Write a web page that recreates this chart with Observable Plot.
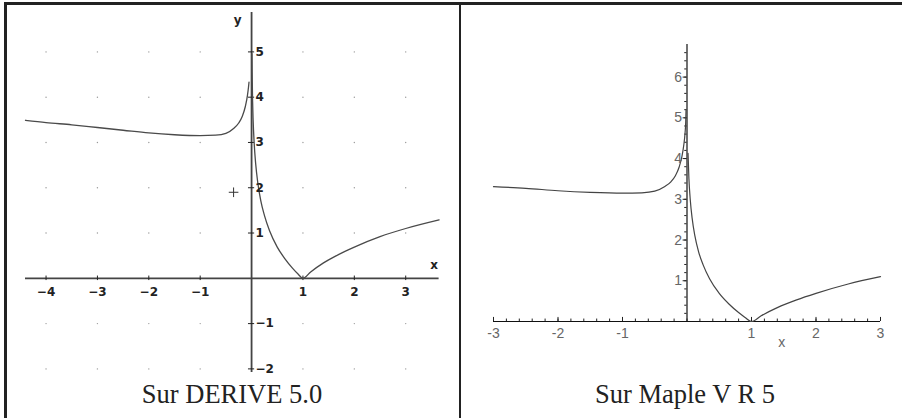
<!DOCTYPE html>
<html>
<head>
<meta charset="utf-8">
<script src="https://cdn.jsdelivr.net/npm/d3@7"></script>
<script src="https://cdn.jsdelivr.net/npm/@observablehq/plot@0.6"></script>
<style>
  html, body { margin: 0; padding: 0; background: #fff; }
  #wrap { position: relative; width: 902px; height: 418px; background: #fff; overflow: hidden; }
  .bar { position: absolute; background: #222; }
  .panel { position: absolute; }
  .cap { position: absolute; top: 379px; font-family: "Liberation Serif", "Times New Roman", serif;
         font-size: 26.5px; line-height: 30px; color: #222; text-align: center; white-space: nowrap; }
</style>
</head>
<body>
<div id="wrap">
  <div class="bar" style="left:4px;top:2px;width:898px;height:2.5px"></div>
  <div class="bar" style="left:4px;top:2px;width:2.5px;height:416px"></div>
  <div class="bar" style="left:458.5px;top:2px;width:2.5px;height:416px"></div>
  <div id="left" class="panel" style="left:6px;top:6px"></div>
  <div id="right" class="panel" style="left:461px;top:6px"></div>
  <div class="cap" style="left:6px;width:452px">Sur DERIVE 5.0</div>
  <div class="cap" style="left:461px;width:448px">Sur Maple V R 5</div>
</div>
<script>
// ---------- DERIVE 5.0 panel data ----------
const deriveNegX = [-4.4, -4, -3.5, -3, -2.5, -2, -1.5, -1, -0.7, -0.5, -0.35, -0.25, -0.18, -0.12, -0.08, -0.06, -0.05];
const deriveNegY = [3.49, 3.44, 3.39, 3.33, 3.27, 3.21, 3.17, 3.15, 3.16, 3.20, 3.31, 3.43, 3.58, 3.80, 4.04, 4.22, 4.33];
const derivePosX = [0.007, 0.01, 0.02, 0.03, 0.05, 0.08, 0.12, 0.18, 0.25, 0.35, 0.5, 0.65, 0.8, 0.9, 1, 1.15, 1.4, 1.7, 2, 2.5, 3, 3.65];
const derivePosY = [4.96, 4.6, 3.91, 3.5, 3.0, 2.53, 2.12, 1.71, 1.39, 1.05, 0.69, 0.43, 0.22, 0.1, 0, 0.14, 0.34, 0.53, 0.69, 0.92, 1.1, 1.29];
const deriveXTicks = [-4, -3, -2, -1, 1, 2, 3];
const deriveYTicks = [-2, -1, 1, 2, 3, 4, 5];
const deriveXLabels = ["\u22124", "\u22123", "\u22122", "\u22121", "1", "2", "3"];
const deriveYLabels = ["\u22122", "\u22121", "1", "2", "3", "4", "5"];
const deriveCursor = [{x: -0.35, y: 1.9}];

// ---------- Maple V R 5 panel data ----------
const mapleNegX = [-3, -2.5, -2, -1.5, -1, -0.7, -0.5, -0.35, -0.25, -0.18, -0.12, -0.08, -0.05, -0.03, -0.02, -0.015];
const mapleNegY = [3.31, 3.27, 3.21, 3.17, 3.15, 3.16, 3.20, 3.31, 3.43, 3.58, 3.80, 4.04, 4.33, 4.63, 4.90, 5.20];
const maplePosX = [0.016, 0.03, 0.05, 0.08, 0.12, 0.18, 0.25, 0.35, 0.5, 0.65, 0.8, 0.9, 1, 1.15, 1.4, 1.7, 2, 2.5, 3];
const maplePosY = [4.13, 3.5, 3.0, 2.53, 2.12, 1.71, 1.39, 1.05, 0.69, 0.43, 0.22, 0.1, 0, 0.14, 0.34, 0.53, 0.69, 0.92, 1.1];
const mapleXTicks = [-3, -2, -1, 1, 2, 3];
const mapleXLabels = ["-3", "-2", "-1", "1", "2", "3"];
const mapleYTicks = [1, 2, 3, 4, 5, 6];
const mapleYLabels = ["1", "2", "3", "4", "5", "6"];

const zip = (xs, ys, branch) => xs.map((x, i) => ({x, y: ys[i], branch}));

// ---------- DERIVE plot ----------
{
  const xDom = [-4.4, 3.65], yDom = [-2.08, 5.87];
  const curve = [...zip(deriveNegX, deriveNegY, "neg"), ...zip(derivePosX, derivePosY, "pos")];
  const grid = deriveXTicks.flatMap(x => [...deriveYTicks].map(y => ({x, y})));
  const font = "DejaVu Sans, sans-serif";
  const xl = deriveXTicks.map((x, i) => ({x, t: deriveXLabels[i]}));
  const yl = deriveYTicks.map((y, i) => ({y, t: deriveYLabels[i]}));
  const p = Plot.plot({
    width: 452, height: 370,
    marginLeft: 19, marginRight: 19.4, marginTop: 6, marginBottom: 4,
    x: {domain: xDom, axis: null},
    y: {domain: yDom, axis: null},
    style: {background: "transparent", overflow: "visible"},
    marks: [
      Plot.dot(grid, {x: "x", y: "y", r: 0.7, fill: "#999", stroke: null}),
      Plot.ruleY([0], {x1: xDom[0], x2: xDom[1], stroke: "#444", strokeWidth: 1.8}),
      Plot.ruleX([0], {y1: yDom[0], y2: yDom[1], stroke: "#444", strokeWidth: 1.8}),
      Plot.ruleX(deriveXTicks, {x: d => d, y1: -0.05, y2: 0.05, stroke: "#222", strokeWidth: 1}),
      Plot.ruleY(deriveYTicks, {y: d => d, x1: -0.06, x2: 0.06, stroke: "#222", strokeWidth: 1}),
      Plot.line(curve, {x: "x", y: "y", z: "branch", stroke: "#4a4a4a", strokeWidth: 1.3, curve: "monotone-x"}),
      Plot.text(xl, {x: "x", y: 0, text: "t", dy: 14, fontSize: 12, fontWeight: "bold", fontFamily: font, fill: "#222"}),
      Plot.text(yl, {x: 0, y: "y", text: "t", dx: 4, textAnchor: "start", fontSize: 12, fontWeight: "bold", fontFamily: font, fill: "#222"}),
      Plot.text(["y"], {x: 0, y: yDom[1], text: d => d, dx: -14, dy: 8, fontSize: 12, fontWeight: "bold", fontFamily: font, fill: "#222"}),
      Plot.text(["x"], {x: xDom[1], y: 0, text: d => d, dx: -5, dy: -13, fontSize: 12, fontWeight: "bold", fontFamily: font, fill: "#222"}),
      Plot.dot(deriveCursor, {x: "x", y: "y", symbol: "plus", r: 3.2, stroke: "#333", strokeWidth: 1})
    ]
  });
  document.getElementById("left").appendChild(p);
}

// ---------- Maple plot ----------
{
  const xDom = [-3, 3], yDom = [0, 6.8];
  const curve = [...zip(mapleNegX, mapleNegY, "neg"), ...zip(maplePosX, maplePosY, "pos")];
  const minorX = d3.range(-15, 16).map(k => k / 5);
  const minorY = d3.range(1, 34).map(k => k / 5);
  const font = "Liberation Sans, Arial, sans-serif";
  const xl = mapleXTicks.map((x, i) => ({x, t: mapleXLabels[i]}));
  const yl = mapleYTicks.map((y, i) => ({y, t: mapleYLabels[i]}));
  const p = Plot.plot({
    width: 441, height: 370,
    marginLeft: 32, marginRight: 22, marginTop: 38, marginBottom: 55,
    x: {domain: xDom, axis: null},
    y: {domain: yDom, axis: null},
    style: {background: "transparent", overflow: "visible"},
    marks: [
      Plot.ruleY([0], {x1: xDom[0], x2: xDom[1], stroke: "#111", strokeWidth: 1.2}),
      Plot.ruleX([0], {y1: yDom[0], y2: yDom[1], stroke: "#111", strokeWidth: 1.2}),
      Plot.ruleX(minorX, {x: d => d, y1: 0, y2: 0.06, stroke: "#222", strokeWidth: 1}),
      Plot.ruleX(mapleXTicks, {x: d => d, y1: 0, y2: 0.1, stroke: "#222", strokeWidth: 1}),
      Plot.ruleY(minorY, {y: d => d, x1: 0, x2: -0.035, stroke: "#222", strokeWidth: 1}),
      Plot.ruleY(mapleYTicks, {y: d => d, x1: 0, x2: -0.06, stroke: "#222", strokeWidth: 1}),
      Plot.line(curve, {x: "x", y: "y", z: "branch", stroke: "#444", strokeWidth: 1.2, curve: "monotone-x"}),
      Plot.text(xl, {x: "x", y: 0, text: "t", dy: 12, fontSize: 14, fontFamily: font, fill: "#666"}),
      Plot.text(yl, {x: 0, y: "y", text: "t", dx: -5, textAnchor: "end", fontSize: 14, fontFamily: font, fill: "#666"}),
      Plot.text(["x"], {x: 1.47, y: 0, text: d => d, dy: 21, fontSize: 14, fontFamily: font, fill: "#666"})
    ]
  });
  document.getElementById("right").appendChild(p);
}
</script>
</body>
</html>
